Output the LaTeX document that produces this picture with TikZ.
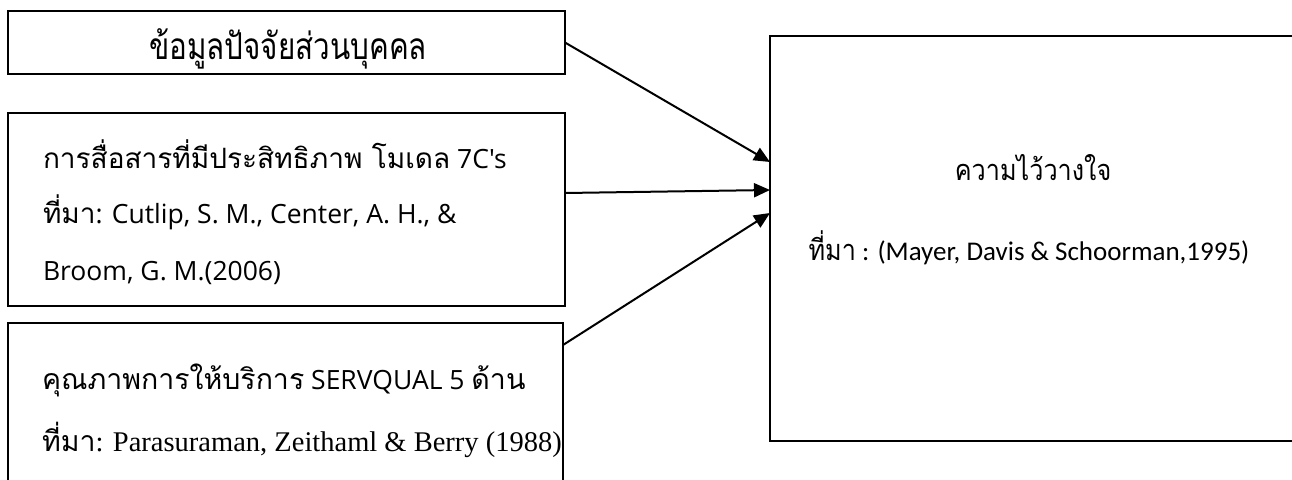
\documentclass[tikz,border=0pt]{standalone}
\usepackage{fontspec}
\setmainfont{Loma}[Script=Thai]
\newfontfamily\segfont{Open Sans}[Ligatures=TeXOff]
\newfontfamily\tmsfont{Liberation Serif}
\newfontfamily\calfont{Carlito}
\newfontfamily\thcond{Loma}[Script=Thai,FakeStretch=0.8]
\newfontfamily\thnarrow{Loma}[Script=Thai,FakeStretch=0.87]
\usetikzlibrary{arrows.meta}
\tikzset{
  frame/.style={draw=black,line width=2pt,rectangle,inner sep=0pt,outer sep=0pt},
  txt/.style={inner sep=0pt,outer sep=0pt,anchor=base west},
  ctxt/.style={inner sep=0pt,outer sep=0pt,anchor=base},
  link/.style={draw=black,line width=2pt,-{Triangle[length=16pt,width=14pt]}}
}
\begin{document}
\begin{tikzpicture}[x=1pt,y=-1pt]
\useasboundingbox (0,0) rectangle (1292,479);
\clip (0,0) rectangle (1292,479);
\fill[white] (0,0) rectangle (1292,479);
% boxes
\node[frame,minimum width=557pt,minimum height=63pt] (b1) at (286.5,42.5) {};
\node[frame,minimum width=557pt,minimum height=193pt] (b2) at (286.5,209.5) {};
\node[frame,minimum width=555pt,minimum height=197pt] (b3) at (285.5,421.5) {};
\node[frame,minimum width=560pt,minimum height=405pt] (br) at (1050,238.5) {};
% texts
\node[ctxt] (t1) at (288,59) {\thcond\fontsize{37}{40}\selectfont ข้อมูลปัจจัยส่วนบุคคล};
\node[txt] (t21) at (43,168) {\fontsize{28}{32}\selectfont การสื่อสารที่มีประสิทธิภาพ โมเดล{\segfont\fontsize{26.5}{30}\selectfont\ 7C's}};
\node[txt] (t22) at (43,223) {\fontsize{28}{32}\selectfont ที่มา{\segfont\fontsize{26.5}{30}\selectfont: Cutlip, S. M., Center, A. H., \&}};
\node[txt] (t23) at (43,280) {\segfont\fontsize{26.5}{30}\selectfont Broom, G. M.(2006)};
\node[txt] (t31) at (42,389) {\fontsize{28.5}{32}\selectfont คุณภาพการให้บริการ{\segfont\fontsize{26.5}{30}\selectfont\ SERVQUAL 5 }ด้าน};
\node[txt] (t32) at (42,451) {\fontsize{28.5}{32}\selectfont ที่มา{\tmsfont\fontsize{28.5}{32}\selectfont: Parasuraman, Zeithaml \& Berry (1988)}};
\node[ctxt] (tr1) at (1033,180) {\thnarrow\fontsize{29}{32}\selectfont ความไว้วางใจ};
\node[ctxt] (tr2) at (1029,260) {\thnarrow\fontsize{29}{32}\selectfont ที่มา{\calfont\fontsize{27}{30}\selectfont\ : (Mayer, Davis \& Schoorman,1995)}};
% connector end points
\coordinate (s1) at (b1.east);
\coordinate (s2) at ([yshift=16.5pt]b2.east);
\coordinate (s3) at ([yshift=-22pt]b3.north east);
\coordinate (e1) at ([yshift=76.5pt]br.west);
\coordinate (e2) at ([yshift=48.5pt]br.west);
\coordinate (e3) at ([yshift=25.5pt]br.west);
\draw[link] (s1) -- (e1);
\draw[link] (s2) -- (e2);
\draw[link] (s3) -- (e3);
\end{tikzpicture}
\end{document}
